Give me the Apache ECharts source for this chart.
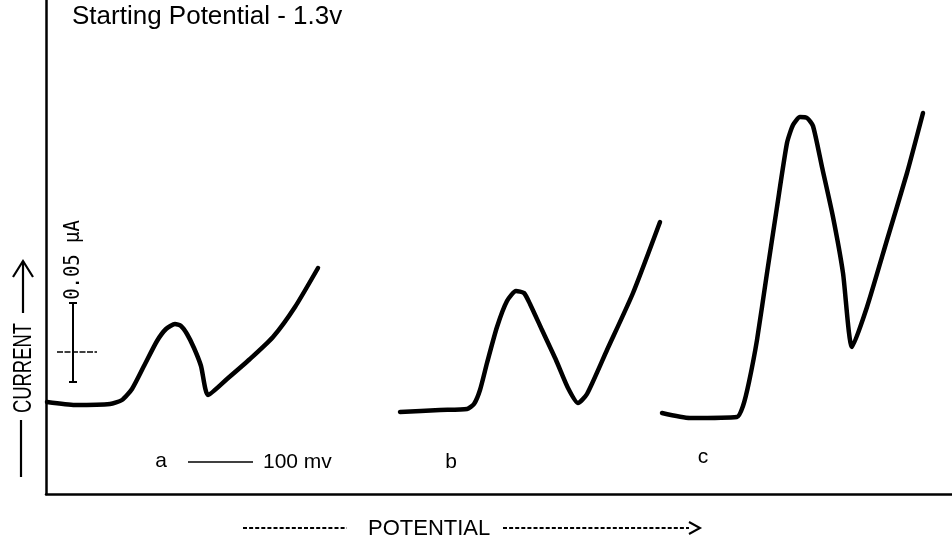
<!DOCTYPE html>
<html>
<head>
<meta charset="utf-8">
<script src="https://cdn.jsdelivr.net/npm/echarts@6/dist/echarts.min.js"></script>
<style>
html,body{margin:0;padding:0;background:#fff;}
#chart{width:952px;height:545px;}
</style>
</head>
<body>
<div id="chart"></div>
<script>
// Potential (arbitrary units along the trace) and current (arbitrary units)
var curveA = [[1,92],[29,89],[64,90],[76,94],[86,105],[99,130],[111,153],[120,165],[129,170],[135,168],[141,160],[148,146],[155,128],[162,99],[181,115],[204,135],[227,157],[249,187],[272,226]];
var curveB = [[354,82],[394,84],[421,85],[428,90],[434,104],[441,131],[451,167],[461,193],[470,203],[478,201],[484,190],[496,164],[510,134],[522,106],[532,91],[541,100],[561,144],[587,201],[614,272]];
var curveC = [[616,81],[644,76],[691,77],[697,88],[703,112],[711,154],[721,221],[731,287],[741,351],[747,369],[754,377],[761,376],[767,368],[776,327],[787,277],[797,221],[806,147],[821,187],[841,254],[861,321],[877,381]];
// scale bars
var currentBar = [[27,112],[27,191]];
var currentBarTopCap = [[23,191],[31,191]];
var currentBarBottomCap = [[23,112],[31,112]];
var currentBarCross = [[11,142],[51,142]];
var potentialBar = [[142,32],[207,32]];
var xRange = [0, 906];
var yRange = [0, 494];
var labels = {title:'Starting Potential - 1.3v', a:'a', b:'b', c:'c', mv:'100 mv', ua:'0.05 \u03bcA', cur:'CURRENT', pot:'POTENTIAL'};

var chart = echarts.init(document.getElementById('chart'));
var F = 'Liberation Sans, Arial, sans-serif';
function curve(d){
  return {type:'line', data:d, symbol:'none', smooth:0.2, silent:true,
    lineStyle:{color:'#000', width:4.5, cap:'round', join:'round'}};
}
function seg(d, w, dash){
  return {type:'line', data:d, symbol:'none', silent:true,
    lineStyle:{color:'#000', width:w, type: dash || 'solid'}};
}
chart.setOption({
  animation:false,
  backgroundColor:'#fff',
  grid:{left:46, right:0, top:0, bottom:51, containLabel:false},
  xAxis:{type:'value', min:xRange[0], max:xRange[1],
    axisLine:{show:true, onZero:false, lineStyle:{color:'#000', width:2.5}},
    axisTick:{show:false}, axisLabel:{show:false}, splitLine:{show:false}},
  yAxis:{type:'value', min:yRange[0], max:yRange[1],
    axisLine:{show:true, onZero:false, lineStyle:{color:'#000', width:2.5}},
    axisTick:{show:false}, axisLabel:{show:false}, splitLine:{show:false}},
  series:[
    curve(curveA), curve(curveB), curve(curveC),
    seg(currentBar, 2), seg(currentBarTopCap, 2), seg(currentBarBottomCap, 2),
    seg(currentBarCross, 1.5, [6,1.5]), seg(potentialBar, 1.5)
  ],
  graphic:[
    {type:'text', left:72, top:4, style:{text:labels.title, font:'26px '+F, fill:'#000'}},
    {type:'text', x:161, y:461, style:{text:labels.a, font:'21px '+F, fill:'#000', align:'center', verticalAlign:'middle'}},
    {type:'text', x:263, y:462, style:{text:labels.mv, font:'21px '+F, fill:'#000', align:'left', verticalAlign:'middle'}},
    {type:'text', x:451, y:462, style:{text:labels.b, font:'21px '+F, fill:'#000', align:'center', verticalAlign:'middle'}},
    {type:'text', x:703, y:457, style:{text:labels.c, font:'21px '+F, fill:'#000', align:'center', verticalAlign:'middle'}},
    {type:'text', x:368, y:529, style:{text:labels.pot, font:'22px '+F, fill:'#000', align:'left', verticalAlign:'middle'}},
    {type:'line', shape:{x1:243, y1:528, x2:347, y2:528}, style:{stroke:'#000', lineWidth:2, lineDash:[4,2.1]}},
    {type:'line', shape:{x1:503, y1:528, x2:689, y2:528}, style:{stroke:'#000', lineWidth:2, lineDash:[4,2.1]}},
    {type:'polyline', shape:{points:[[689,522],[700,528],[689,534]]}, style:{stroke:'#000', lineWidth:2, fill:null}},
    {type:'text', x:23.5, y:368, rotation:Math.PI/2, scaleX:0.71, style:{text:labels.cur, font:'26px '+F, fill:'#000', align:'center', verticalAlign:'middle'}},
    {type:'line', shape:{x1:21, y1:420, x2:21, y2:477}, style:{stroke:'#000', lineWidth:2.2}},
    {type:'line', shape:{x1:23, y1:313, x2:23, y2:261}, style:{stroke:'#000', lineWidth:2.2}},
    {type:'polyline', shape:{points:[[13,277],[23,261],[33,277]]}, style:{stroke:'#000', lineWidth:2.2, fill:null}},
    {type:'text', x:73, y:260, rotation:Math.PI/2, scaleX:0.86, style:{text:labels.ua, font:'22px DejaVu Sans Mono, monospace', fill:'#000', align:'center', verticalAlign:'middle'}}
  ]
});
</script>
</body>
</html>
